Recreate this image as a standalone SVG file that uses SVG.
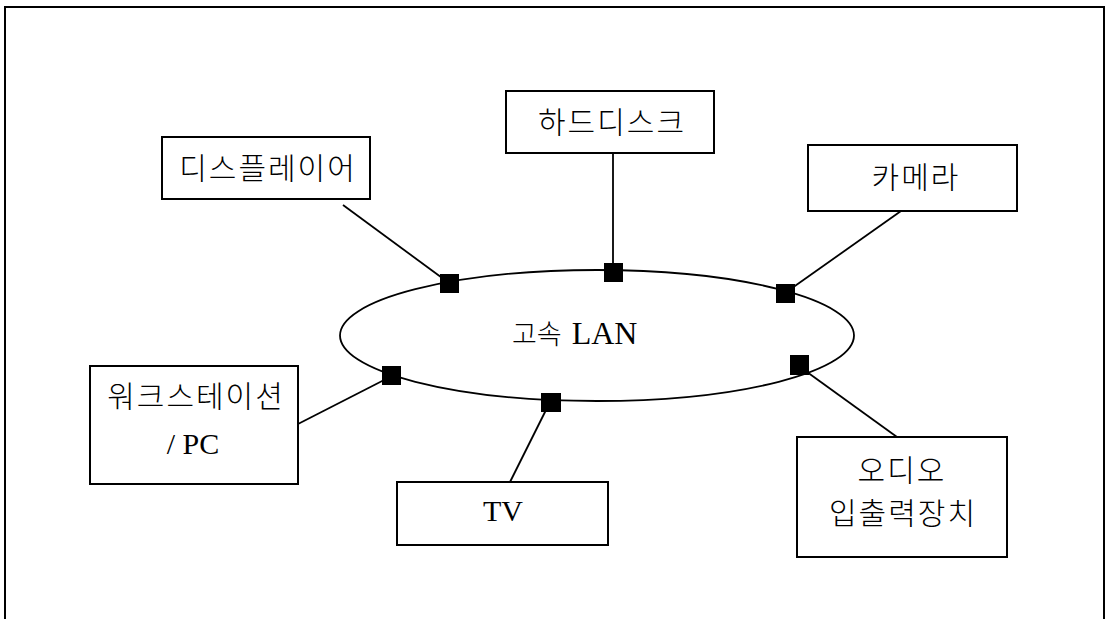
<svg xmlns="http://www.w3.org/2000/svg" width="1108" height="619" viewBox="0 0 1108 619">
<style>
.box{fill:#fff;stroke:#000;stroke-width:2}
.ko{font-family:"Noto Sans CJK KR","Noto Sans",sans-serif;font-weight:300;font-size:30px;letter-spacing:2px;fill:#000}
.la{font-family:"Liberation Serif","Times New Roman",serif;font-size:30px;fill:#000}
.con{stroke:#000;stroke-width:1.8;fill:none}
.mk{fill:#000}
</style>
<rect width="1108" height="619" fill="#fff"/>
<rect x="5" y="7" width="1099" height="630" fill="none" stroke="#000" stroke-width="2"/>
<g id="lan">
<ellipse cx="597" cy="335.5" rx="257" ry="65.5" fill="none" stroke="#000" stroke-width="1.8"/>
<text x="512" y="344"><tspan class="ko" style="font-size:27px;letter-spacing:0">고속</tspan><tspan class="la" style="font-size:32px" dx="10">LAN</tspan></text>
</g>
<g id="connectors">
<line class="con" x1="343" y1="205" x2="449" y2="283"/>
<line class="con" x1="613" y1="153" x2="613" y2="272"/>
<line class="con" x1="901" y1="211" x2="785" y2="293"/>
<line class="con" x1="298" y1="424" x2="388" y2="378"/>
<line class="con" x1="546" y1="410" x2="510" y2="482"/>
<line class="con" x1="807" y1="372" x2="897" y2="437"/>
<rect class="mk" x="440" y="274" width="19" height="19"/>
<rect class="mk" x="604" y="263" width="19" height="19"/>
<rect class="mk" x="776" y="284" width="19" height="19"/>
<rect class="mk" x="382" y="366" width="19" height="19"/>
<rect class="mk" x="541" y="393" width="20" height="19"/>
<rect class="mk" x="790" y="355" width="19" height="20"/>
</g>
<g id="display">
<rect class="box" x="162" y="137" width="208" height="62"/>
<text class="ko" x="268" y="179" text-anchor="middle">디스플레이어</text>
</g>
<g id="harddisk">
<rect class="box" x="506" y="91" width="208" height="62"/>
<text class="ko" x="612" y="133" text-anchor="middle">하드디스크</text>
</g>
<g id="camera">
<rect class="box" x="808" y="145" width="209" height="66"/>
<text class="ko" x="916" y="188" text-anchor="middle">카메라</text>
</g>
<g id="workstation">
<rect class="box" x="90" y="366" width="208" height="118"/>
<text class="ko" x="196" y="407" text-anchor="middle">워크스테이션</text>
<text class="la" x="193" y="454" text-anchor="middle">/ PC</text>
</g>
<g id="tv">
<rect class="box" x="397" y="482" width="211" height="63"/>
<text class="la" x="503" y="521" text-anchor="middle">TV</text>
</g>
<g id="audio">
<rect class="box" x="797" y="437" width="210" height="120"/>
<text class="ko" x="902" y="481" text-anchor="middle">오디오</text>
<text class="ko" x="903" y="524" text-anchor="middle">입출력장치</text>
</g>
</svg>
